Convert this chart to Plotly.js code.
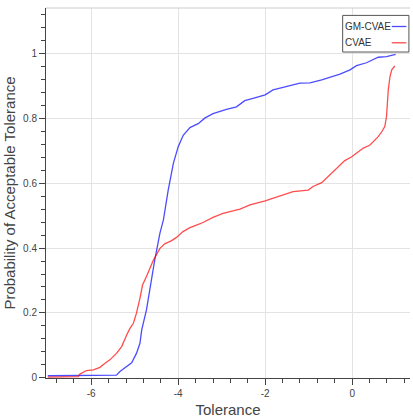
<!DOCTYPE html>
<html>
<head>
<meta charset="utf-8">
<script src="https://cdn.plot.ly/plotly-3.0.1.min.js"></script>
<style>html,body{margin:0;padding:0;background:#fff;}#chart{width:413px;height:418px;}</style>
</head>
<body>
<div id="chart"></div>
<script>
var gmX = [-7.0, -6.0, -5.42, -5.34, -5.2, -5.07, -4.96, -4.88, -4.84, -4.73, -4.54, -4.42, -4.34, -4.27, -4.23, -4.11, -4.0, -3.885, -3.73, -3.54, -3.39, -3.20, -3.04, -2.89, -2.66, -2.47, -2.28, -2.0, -1.82, -1.51, -1.20, -0.97, -0.70, -0.28, -0.05, 0.10, 0.33, 0.60, 0.79, 1.0];
var gmY = [0.006, 0.007, 0.008, 0.019, 0.032, 0.046, 0.075, 0.106, 0.147, 0.209, 0.363, 0.446, 0.487, 0.548, 0.579, 0.662, 0.713, 0.748, 0.772, 0.784, 0.801, 0.815, 0.822, 0.828, 0.836, 0.855, 0.862, 0.873, 0.888, 0.898, 0.909, 0.910, 0.919, 0.937, 0.950, 0.963, 0.972, 0.989, 0.991, 0.998];
var cvX = [-7.0, -6.3, -6.26, -6.11, -5.95, -5.80, -5.69, -5.57, -5.42, -5.30, -5.19, -5.11, -5.03, -4.96, -4.88, -4.82, -4.73, -4.57, -4.42, -4.31, -4.15, -4.04, -3.89, -3.73, -3.58, -3.43, -3.20, -2.97, -2.58, -2.35, -2.0, -1.66, -1.36, -1.01, -0.90, -0.70, -0.51, -0.17, -0.01, 0.25, 0.41, 0.60, 0.68, 0.75, 0.79, 0.83, 0.87, 0.91, 0.98];
var cvY = [0.002, 0.003, 0.011, 0.022, 0.024, 0.032, 0.044, 0.055, 0.075, 0.096, 0.13, 0.152, 0.168, 0.199, 0.245, 0.286, 0.312, 0.363, 0.399, 0.413, 0.423, 0.433, 0.451, 0.463, 0.471, 0.479, 0.495, 0.507, 0.520, 0.533, 0.546, 0.561, 0.574, 0.579, 0.590, 0.602, 0.626, 0.670, 0.682, 0.708, 0.718, 0.744, 0.759, 0.775, 0.806, 0.888, 0.929, 0.950, 0.962];
var seriesNames = ['GM-CVAE', 'CVAE'];
var seriesColors = ['rgba(0,0,255,0.7)', 'rgba(255,0,0,0.7)'];
var xTickVals = [-6, -4, -2, 0];
var xTickText = ['-6', '-4', '-2', '0'];
var yTickVals = [0, 0.2, 0.4, 0.6, 0.8, 1];
var yTickText = ['0', '0.2', '0.4', '0.6', '0.8', '1'];

var traces = [
  {x: gmX, y: gmY, name: seriesNames[0], mode: 'lines', line: {color: seriesColors[0], width: 1.3}},
  {x: cvX, y: cvY, name: seriesNames[1], mode: 'lines', line: {color: seriesColors[1], width: 1.3}}
];

var ff = 'Liberation Sans, Arial, sans-serif';
var tickFont = {family: ff, size: 10, color: '#444'};
var layout = {
  width: 413, height: 418,
  margin: {l: 46, r: 3, t: 8, b: 40},
  paper_bgcolor: '#fff', plot_bgcolor: '#fff',
  showlegend: false,
  xaxis: {
    range: [-7.04, 1.33],
    tickmode: 'array', tickvals: xTickVals, ticktext: xTickText,
    ticks: 'outside', ticklen: 6, tickwidth: 1, tickcolor: '#444',
    showline: true, linecolor: '#444', linewidth: 1,
    showgrid: true, gridcolor: '#e3e3e3', gridwidth: 1,
    zeroline: false,
    tickfont: tickFont,
    minor: {dtick: 0.4, tick0: 0, ticks: 'outside', ticklen: 4, tickcolor: '#444', showgrid: false},
    title: {text: 'Tolerance', font: {family: ff, size: 15, color: '#444'}, standoff: 9}
  },
  yaxis: {
    range: [-0.001, 1.141],
    tickmode: 'array', tickvals: yTickVals, ticktext: yTickText,
    ticks: 'outside', ticklen: 6, tickwidth: 1, tickcolor: '#444',
    showline: true, linecolor: '#444', linewidth: 1,
    showgrid: true, gridcolor: '#e3e3e3', gridwidth: 1,
    zeroline: false,
    tickfont: tickFont,
    minor: {dtick: 0.04, tick0: 0, ticks: 'outside', ticklen: 4, tickcolor: '#444', showgrid: false},
    title: {text: 'Probability of Acceptable Tolerance', font: {family: ff, size: 15, color: '#444'}, standoff: 3}
  },
  shapes: [
    {type: 'line', xref: 'paper', yref: 'paper', x0: 0, x1: 1, y0: 1, y1: 1, line: {color: '#cccccc', width: 1}},
    {type: 'rect', xref: 'paper', yref: 'paper', x0: 0.815, x1: 0.997, y0: 0.881, y1: 0.980, fillcolor: '#fff', line: {color: '#555', width: 1}},
    {type: 'line', xref: 'paper', yref: 'paper', x0: 0.950, x1: 0.990, y0: 0.95, y1: 0.95, line: {color: seriesColors[0], width: 1.3}},
    {type: 'line', xref: 'paper', yref: 'paper', x0: 0.950, x1: 0.990, y0: 0.906, y1: 0.906, line: {color: seriesColors[1], width: 1.3}}
  ],
  annotations: [
    {xref: 'paper', yref: 'paper', x: 0.817, y: 0.95, xanchor: 'left', yanchor: 'middle', text: seriesNames[0], showarrow: false, font: {family: ff, size: 10, color: '#333'}},
    {xref: 'paper', yref: 'paper', x: 0.817, y: 0.906, xanchor: 'left', yanchor: 'middle', text: seriesNames[1], showarrow: false, font: {family: ff, size: 10, color: '#333'}}
  ]
};
Plotly.newPlot('chart', traces, layout, {displayModeBar: false, staticPlot: true});
</script>
</body>
</html>
